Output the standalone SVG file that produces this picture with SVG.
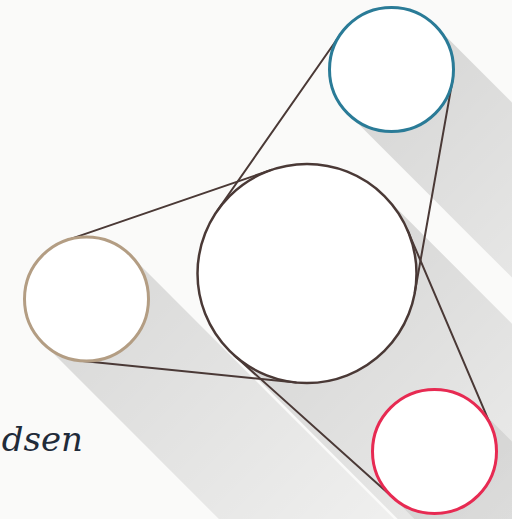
<svg xmlns="http://www.w3.org/2000/svg" width="512" height="519" viewBox="0 0 512 519">
  <defs>
    <style>
      .belt { stroke: #4a3936; stroke-width: 2; fill: none; stroke-linecap: round; }
      .node { fill: #ffffff; }
      .label { font-family: "DejaVu Serif", "Liberation Serif", serif; font-style: italic; font-size: 34px; fill: #1f2b3a; }
    </style>
    <linearGradient id="shBlue" gradientUnits="userSpaceOnUse" x1="391.5" y1="69.5" x2="691.5" y2="369.5">
      <stop offset="0" stop-color="#000" stop-opacity="0.14"/>
      <stop offset="1" stop-color="#000" stop-opacity="0.03"/>
    </linearGradient>
    <linearGradient id="shBig" gradientUnits="userSpaceOnUse" x1="307" y1="273.5" x2="607" y2="573.5">
      <stop offset="0" stop-color="#000" stop-opacity="0.14"/>
      <stop offset="1" stop-color="#000" stop-opacity="0.03"/>
    </linearGradient>
    <linearGradient id="shTan" gradientUnits="userSpaceOnUse" x1="86.5" y1="299" x2="386.5" y2="599">
      <stop offset="0" stop-color="#000" stop-opacity="0.13"/>
      <stop offset="1" stop-color="#000" stop-opacity="0.03"/>
    </linearGradient>
    <linearGradient id="shRed" gradientUnits="userSpaceOnUse" x1="434.5" y1="451.5" x2="734.5" y2="751.5">
      <stop offset="0" stop-color="#000" stop-opacity="0.08"/>
      <stop offset="1" stop-color="#000" stop-opacity="0.02"/>
    </linearGradient>
  </defs>

  <rect x="0" y="0" width="512" height="519" fill="#fafaf9"/>

  <g id="shadows">
    <polygon points="435.3,25.7 1035.3,625.7 947.7,713.3 347.7,113.3" fill="url(#shBlue)"/>
    <polygon points="384.4,196.1 984.4,796.1 829.6,950.9 229.6,350.9" fill="url(#shBig)"/>
    <polygon points="130.3,255.2 730.3,855.2 642.7,942.8 42.7,342.8" fill="url(#shTan)"/>
    <polygon points="478.3,407.7 1078.3,1007.7 990.7,1095.3 390.7,495.3" fill="url(#shRed)"/>
  </g>

  <g id="center-circle">
    <circle class="node" cx="307" cy="273.5" r="109.5" stroke="#4a3936" stroke-width="2.5"/>
  </g>

  <g id="connectors">
    <line class="belt" x1="452.5" y1="80.4" x2="414.8" y2="292.7"/>
    <line class="belt" x1="340.7" y1="34.0" x2="217.2" y2="210.8"/>
    <line class="belt" x1="66.4" y1="240.4" x2="271.4" y2="169.9"/>
    <line class="belt" x1="80.3" y1="360.7" x2="296.0" y2="382.5"/>
    <line class="belt" x1="491.5" y1="427.2" x2="407.7" y2="230.6"/>
    <line class="belt" x1="393.1" y1="497.7" x2="233.9" y2="355.0"/>
  </g>

  <g id="blue-circle">
    <circle class="node" cx="391.5" cy="69.5" r="62" stroke="#2a7b97" stroke-width="3"/>
  </g>
  <g id="tan-circle">
    <circle class="node" cx="86.5" cy="299" r="62" stroke="#b39d83" stroke-width="3"/>
  </g>
  <g id="red-circle">
    <circle class="node" cx="434.5" cy="451.5" r="62" stroke="#e72a52" stroke-width="3"/>
  </g>

  <text class="label" x="83" y="451" text-anchor="end">dsen</text>
</svg>
